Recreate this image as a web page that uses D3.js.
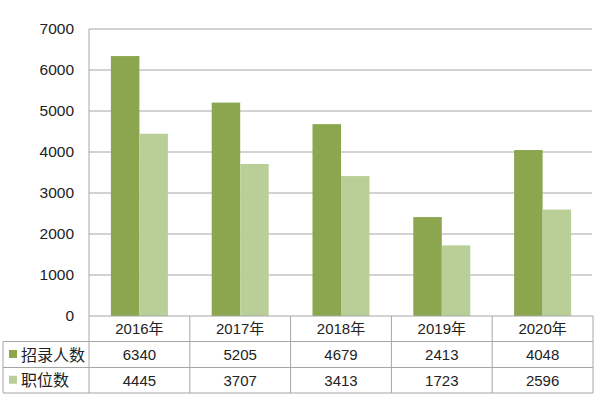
<!DOCTYPE html>
<html><head><meta charset="utf-8">
<script src="https://cdn.jsdelivr.net/npm/d3@7"></script>
<style>body{margin:0;background:#fff}svg{display:block}text{font-family:"Liberation Sans","Noto Sans CJK SC",sans-serif;fill:#222}</style>
</head><body><svg id="c" width="602" height="406"></svg>
<script>
const categories = ["2016年","2017年","2018年","2019年","2020年"];
const seriesNames = ["招录人数","职位数"];
const recruits = [6340,5205,4679,2413,4048];
const positions = [4445,3707,3413,1723,2596];
const yTicks = [0,1000,2000,3000,4000,5000,6000,7000];
const colors = ["#8BA64F","#BACF98"];

const svg = d3.select("#c");
const L=89,R=593,T=29,B=316, tableLeft=3, rowH=[316,341.5,367.5,393];
const x = d3.scaleBand().domain(categories).range([L,R]).paddingInner(0).paddingOuter(0);
const xs = d3.scaleBand().domain([0,1]).range([0,57]);
const y = d3.scaleLinear().domain([0,7000]).range([B,T]);

// gridlines
svg.append("g").selectAll("line").data(yTicks.filter(d=>d>0)).join("line")
  .attr("x1",L).attr("x2",R-1).attr("y1",d=>y(d)).attr("y2",d=>y(d))
  .attr("stroke","#A6A6A6").attr("stroke-width",1);
// y axis line
svg.append("line").attr("x1",L).attr("x2",L).attr("y1",T).attr("y2",B).attr("stroke","#A6A6A6");

// y axis
const yAxis = d3.axisLeft(y).tickValues(yTicks).tickFormat(d3.format("d")).tickSize(0).tickPadding(15);
const gy = svg.append("g").attr("transform",`translate(${L},0)`).call(yAxis);
gy.select(".domain").remove();
gy.selectAll("text").style("font-size","15.5px").style("font-family",'"Liberation Sans",sans-serif').attr("fill","#222");

// bars
const data = [recruits, positions];
const off = (x.bandwidth()-57)/2;
data.forEach((vals,si)=>{
  svg.append("g").selectAll("rect").data(vals).join("rect")
    .attr("x",(d,i)=>x(categories[i])+off+xs(si))
    .attr("width",xs.bandwidth())
    .attr("y",d=>y(d)).attr("height",d=>B-y(d))
    .attr("fill",colors[si]);
});

// table
const tg = svg.append("g").attr("stroke","#A6A6A6").attr("stroke-width",1).attr("fill","none");
tg.append("line").attr("x1",L).attr("x2",R).attr("y1",B).attr("y2",B);
[rowH[1],rowH[2],rowH[3]].forEach(yy=>tg.append("line").attr("x1",tableLeft).attr("x2",R).attr("y1",yy).attr("y2",yy));
tg.append("line").attr("x1",tableLeft).attr("x2",tableLeft).attr("y1",rowH[1]).attr("y2",rowH[3]);
categories.forEach(c=>tg.append("line").attr("x1",x(c)).attr("x2",x(c)).attr("y1",B).attr("y2",rowH[3]));
tg.append("line").attr("x1",R).attr("x2",R).attr("y1",B).attr("y2",rowH[3]);

// header labels
svg.append("g").selectAll("text").data(categories).join("text")
  .attr("x",d=>x(d)+x.bandwidth()/2).attr("y",(rowH[0]+rowH[1])/2+5.5)
  .attr("text-anchor","middle").style("font-size","15px").text(d=>d);
// rows
data.forEach((vals,si)=>{
  const cy=(rowH[si+1]+rowH[si+2])/2;
  svg.append("rect").attr("x",9).attr("y",cy-4.5).attr("width",8).attr("height",8).attr("fill",colors[si]);
  svg.append("text").attr("x",21).attr("y",cy+6).style("font-size","16px").text(seriesNames[si]);
  svg.append("g").selectAll("text").data(vals).join("text")
    .attr("x",(d,i)=>x(categories[i])+x.bandwidth()/2).attr("y",cy+5.5)
    .attr("text-anchor","middle").style("font-size","15px").text(d=>d);
});
</script></body></html>
